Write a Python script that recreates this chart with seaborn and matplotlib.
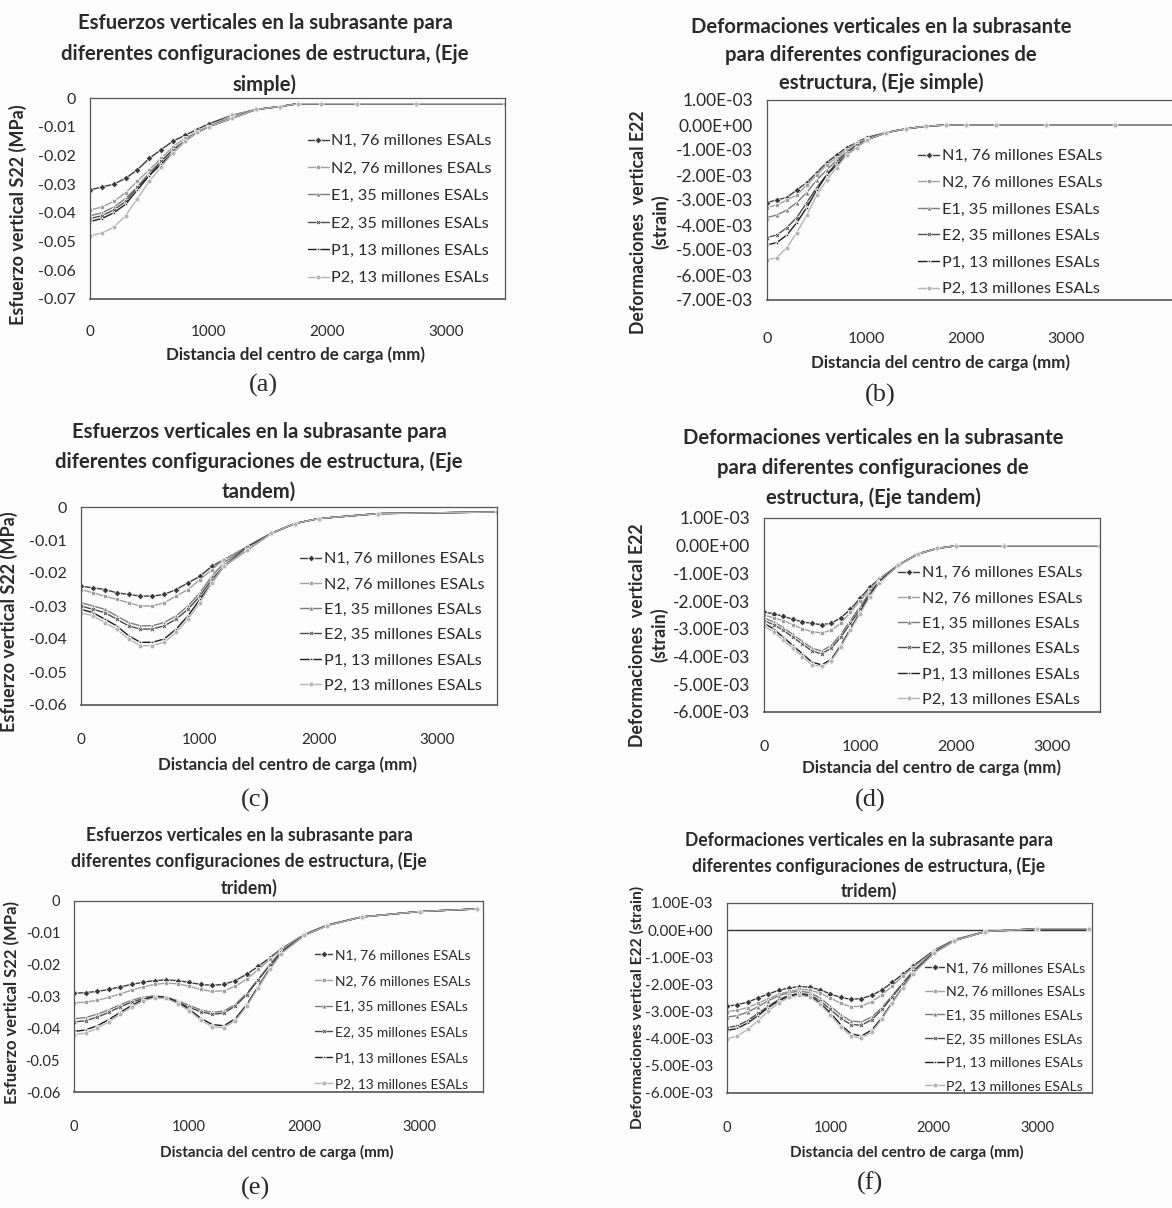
import numpy as np
import pandas as pd
import seaborn as sns
import matplotlib.pyplot as plt
from matplotlib.ticker import FuncFormatter, MultipleLocator, FixedLocator

sns.set_theme(style="white")
plt.rcParams['font.family'] = ['Lato', 'DejaVu Sans']

# --- data ---
series = ["N1", "N2", "E1", "E2", "P1", "P2"]
labels_std = ["N1, 76 millones ESALs", "N2, 76 millones ESALs", "E1, 35 millones ESALs",
              "E2, 35 millones ESALs", "P1, 13 millones ESALs", "P2, 13 millones ESALs"]
labels_f = ["N1, 76 millones ESALs", "N2, 76 millones ESALs", "E1, 35 millones ESALs",
            "E2, 35 millones ESLAs", "P1, 13 millones ESALs", "P2, 13 millones ESALs"]

# (a) stress, single axle
x_a = [0, 100, 200, 300, 400, 500, 600, 700, 800, 900, 1000, 1200, 1400, 1600, 1750, 1950, 2250, 2750, 3500]
a_N1 = [-0.032, -0.031, -0.030, -0.028, -0.025, -0.021, -0.018, -0.015, -0.013, -0.011, -0.009, -0.006, -0.004, -0.003, -0.002, -0.002, -0.002, -0.002, -0.002]
a_N2 = [-0.039, -0.038, -0.036, -0.033, -0.029, -0.025, -0.021, -0.017, -0.014, -0.012, -0.010, -0.006, -0.004, -0.003, -0.002, -0.002, -0.002, -0.002, -0.002]
a_E1 = [-0.041, -0.040, -0.038, -0.035, -0.031, -0.026, -0.022, -0.018, -0.015, -0.012, -0.010, -0.007, -0.004, -0.003, -0.002, -0.002, -0.002, -0.002, -0.002]
a_E2 = [-0.042, -0.041, -0.039, -0.036, -0.031, -0.027, -0.022, -0.018, -0.015, -0.012, -0.010, -0.007, -0.004, -0.003, -0.002, -0.002, -0.002, -0.002, -0.002]
a_P1 = [-0.043, -0.042, -0.040, -0.037, -0.032, -0.027, -0.023, -0.019, -0.015, -0.012, -0.010, -0.007, -0.004, -0.003, -0.002, -0.002, -0.002, -0.002, -0.002]
a_P2 = [-0.048, -0.047, -0.045, -0.041, -0.035, -0.029, -0.024, -0.019, -0.015, -0.012, -0.010, -0.007, -0.004, -0.003, -0.002, -0.002, -0.002, -0.002, -0.002]

# (b) strain, single axle
x_b = [0, 100, 200, 300, 400, 500, 600, 700, 800, 900, 1000, 1200, 1400, 1600, 1800, 2000, 2300, 2800, 3500, 4200]
b_N1 = [-3.1e-3, -3.0e-3, -2.9e-3, -2.6e-3, -2.3e-3, -1.9e-3, -1.5e-3, -1.2e-3, -0.9e-3, -0.7e-3, -0.5e-3, -0.3e-3, -0.15e-3, -0.05e-3, 0.0, 0.0, 0.0, 0.0, 0.0, 0.0]
b_N2 = [-3.3e-3, -3.2e-3, -3.0e-3, -2.8e-3, -2.4e-3, -2.0e-3, -1.6e-3, -1.3e-3, -1.0e-3, -0.7e-3, -0.55e-3, -0.3e-3, -0.15e-3, -0.05e-3, 0.0, 0.0, 0.0, 0.0, 0.0, 0.0]
b_E1 = [-3.7e-3, -3.6e-3, -3.4e-3, -3.1e-3, -2.7e-3, -2.2e-3, -1.8e-3, -1.4e-3, -1.1e-3, -0.8e-3, -0.6e-3, -0.3e-3, -0.15e-3, -0.05e-3, 0.0, 0.0, 0.0, 0.0, 0.0, 0.0]
b_E2 = [-4.5e-3, -4.4e-3, -4.1e-3, -3.7e-3, -3.1e-3, -2.5e-3, -2.0e-3, -1.5e-3, -1.1e-3, -0.8e-3, -0.6e-3, -0.3e-3, -0.15e-3, -0.05e-3, 0.0, 0.0, 0.0, 0.0, 0.0, 0.0]
b_P1 = [-4.8e-3, -4.7e-3, -4.4e-3, -3.9e-3, -3.3e-3, -2.6e-3, -2.0e-3, -1.6e-3, -1.2e-3, -0.9e-3, -0.6e-3, -0.3e-3, -0.15e-3, -0.05e-3, 0.0, 0.0, 0.0, 0.0, 0.0, 0.0]
b_P2 = [-5.4e-3, -5.3e-3, -4.9e-3, -4.3e-3, -3.6e-3, -2.8e-3, -2.2e-3, -1.7e-3, -1.2e-3, -0.9e-3, -0.6e-3, -0.3e-3, -0.15e-3, -0.05e-3, 0.0, 0.0, 0.0, 0.0, 0.0, 0.0]

# (c) stress, tandem axle
x_c = [0, 100, 200, 300, 400, 500, 600, 700, 800, 900, 1000, 1100, 1200, 1400, 1600, 1800, 2000, 2500, 3500]
c_N1 = [-0.024, -0.0245, -0.025, -0.026, -0.0265, -0.027, -0.027, -0.0265, -0.025, -0.023, -0.021, -0.018, -0.016, -0.012, -0.008, -0.005, -0.0035, -0.002, -0.0015]
c_N2 = [-0.025, -0.026, -0.027, -0.028, -0.029, -0.030, -0.030, -0.029, -0.027, -0.025, -0.022, -0.019, -0.016, -0.012, -0.008, -0.005, -0.0035, -0.002, -0.0015]
c_E1 = [-0.029, -0.030, -0.031, -0.033, -0.035, -0.036, -0.036, -0.035, -0.033, -0.030, -0.026, -0.021, -0.017, -0.012, -0.008, -0.005, -0.0035, -0.002, -0.0015]
c_E2 = [-0.030, -0.031, -0.032, -0.034, -0.036, -0.037, -0.037, -0.036, -0.034, -0.031, -0.027, -0.022, -0.018, -0.012, -0.008, -0.005, -0.0035, -0.002, -0.0015]
c_P1 = [-0.031, -0.032, -0.034, -0.036, -0.039, -0.041, -0.041, -0.040, -0.037, -0.033, -0.028, -0.023, -0.018, -0.013, -0.008, -0.005, -0.0035, -0.002, -0.0015]
c_P2 = [-0.032, -0.033, -0.035, -0.037, -0.040, -0.042, -0.042, -0.041, -0.038, -0.034, -0.029, -0.023, -0.018, -0.013, -0.008, -0.005, -0.0035, -0.002, -0.0015]

# (d) strain, tandem axle
x_d = [0, 100, 200, 300, 400, 500, 600, 700, 800, 900, 1000, 1100, 1200, 1400, 1600, 1800, 2000, 2500, 3500]
d_N1 = [-2.4e-3, -2.45e-3, -2.55e-3, -2.65e-3, -2.75e-3, -2.8e-3, -2.85e-3, -2.8e-3, -2.6e-3, -2.3e-3, -1.9e-3, -1.5e-3, -1.2e-3, -0.7e-3, -0.3e-3, -0.1e-3, 0.0, 0.0, 0.0]
d_N2 = [-2.5e-3, -2.6e-3, -2.7e-3, -2.85e-3, -3.0e-3, -3.1e-3, -3.15e-3, -3.05e-3, -2.8e-3, -2.4e-3, -2.0e-3, -1.6e-3, -1.2e-3, -0.7e-3, -0.3e-3, -0.1e-3, 0.0, 0.0, 0.0]
d_E1 = [-2.6e-3, -2.75e-3, -2.95e-3, -3.2e-3, -3.45e-3, -3.7e-3, -3.8e-3, -3.6e-3, -3.2e-3, -2.7e-3, -2.2e-3, -1.7e-3, -1.3e-3, -0.7e-3, -0.3e-3, -0.1e-3, 0.0, 0.0, 0.0]
d_E2 = [-2.7e-3, -2.85e-3, -3.05e-3, -3.3e-3, -3.55e-3, -3.8e-3, -3.9e-3, -3.7e-3, -3.3e-3, -2.8e-3, -2.3e-3, -1.75e-3, -1.3e-3, -0.7e-3, -0.3e-3, -0.1e-3, 0.0, 0.0, 0.0]
d_P1 = [-2.8e-3, -3.0e-3, -3.3e-3, -3.6e-3, -3.9e-3, -4.2e-3, -4.3e-3, -4.1e-3, -3.6e-3, -3.0e-3, -2.4e-3, -1.8e-3, -1.3e-3, -0.7e-3, -0.3e-3, -0.1e-3, 0.0, 0.0, 0.0]
d_P2 = [-2.9e-3, -3.1e-3, -3.4e-3, -3.7e-3, -4.0e-3, -4.3e-3, -4.35e-3, -4.15e-3, -3.65e-3, -3.05e-3, -2.45e-3, -1.85e-3, -1.35e-3, -0.7e-3, -0.3e-3, -0.1e-3, 0.0, 0.0, 0.0]

# (e) stress, tridem axle
x_e = [0, 100, 200, 300, 400, 500, 600, 700, 800, 900, 1000, 1100, 1200, 1300, 1400, 1500, 1600, 1700, 1800, 2000, 2200, 2500, 3000, 3500]
e_N1 = [-0.029, -0.0288, -0.0284, -0.0278, -0.0270, -0.0262, -0.0255, -0.0250, -0.0248, -0.0250, -0.0256, -0.0262, -0.0265, -0.0262, -0.0250, -0.0230, -0.0205, -0.0178, -0.0150, -0.0105, -0.0075, -0.0050, -0.0033, -0.0025]
e_N2 = [-0.032, -0.0318, -0.0312, -0.0303, -0.0292, -0.0280, -0.0270, -0.0262, -0.0258, -0.0260, -0.0268, -0.0278, -0.0284, -0.0282, -0.0268, -0.0245, -0.0215, -0.0183, -0.0152, -0.0105, -0.0075, -0.0050, -0.0033, -0.0025]
e_E1 = [-0.037, -0.0366, -0.0356, -0.0342, -0.0326, -0.0312, -0.0302, -0.0298, -0.0302, -0.0313, -0.0328, -0.0342, -0.0350, -0.0346, -0.0325, -0.0290, -0.0245, -0.0200, -0.0158, -0.0107, -0.0076, -0.0050, -0.0033, -0.0025]
e_E2 = [-0.038, -0.0376, -0.0365, -0.0350, -0.0333, -0.0318, -0.0307, -0.0302, -0.0306, -0.0318, -0.0334, -0.0348, -0.0356, -0.0352, -0.0330, -0.0294, -0.0248, -0.0202, -0.0159, -0.0107, -0.0076, -0.0050, -0.0033, -0.0025]
e_P1 = [-0.041, -0.0405, -0.0392, -0.0373, -0.0350, -0.0328, -0.0310, -0.0300, -0.0302, -0.0318, -0.0340, -0.0368, -0.0388, -0.0392, -0.0370, -0.0325, -0.0268, -0.0212, -0.0163, -0.0108, -0.0077, -0.0050, -0.0033, -0.0025]
e_P2 = [-0.042, -0.0415, -0.0400, -0.0380, -0.0356, -0.0333, -0.0314, -0.0304, -0.0306, -0.0322, -0.0345, -0.0374, -0.0395, -0.0398, -0.0376, -0.0330, -0.0272, -0.0215, -0.0165, -0.0108, -0.0077, -0.0050, -0.0033, -0.0025]

# (f) strain, tridem axle
x_f = [0, 100, 200, 300, 400, 500, 600, 700, 800, 900, 1000, 1100, 1200, 1300, 1400, 1500, 1600, 1700, 1800, 2000, 2200, 2500, 3000, 3500]
f_N1 = [-2.8e-3, -2.75e-3, -2.65e-3, -2.5e-3, -2.35e-3, -2.22e-3, -2.13e-3, -2.08e-3, -2.1e-3, -2.2e-3, -2.35e-3, -2.48e-3, -2.55e-3, -2.52e-3, -2.4e-3, -2.2e-3, -1.92e-3, -1.62e-3, -1.32e-3, -0.75e-3, -0.35e-3, -0.05e-3, 0.05e-3, 0.05e-3]
f_N2 = [-3.0e-3, -2.95e-3, -2.85e-3, -2.7e-3, -2.52e-3, -2.36e-3, -2.25e-3, -2.18e-3, -2.2e-3, -2.32e-3, -2.5e-3, -2.7e-3, -2.82e-3, -2.8e-3, -2.63e-3, -2.38e-3, -2.05e-3, -1.7e-3, -1.38e-3, -0.78e-3, -0.36e-3, -0.05e-3, 0.05e-3, 0.05e-3]
f_E1 = [-3.2e-3, -3.15e-3, -3.02e-3, -2.82e-3, -2.6e-3, -2.42e-3, -2.3e-3, -2.25e-3, -2.3e-3, -2.5e-3, -2.8e-3, -3.12e-3, -3.35e-3, -3.38e-3, -3.2e-3, -2.85e-3, -2.4e-3, -1.95e-3, -1.5e-3, -0.82e-3, -0.38e-3, -0.05e-3, 0.05e-3, 0.05e-3]
f_E2 = [-3.6e-3, -3.52e-3, -3.33e-3, -3.07e-3, -2.8e-3, -2.56e-3, -2.4e-3, -2.33e-3, -2.38e-3, -2.6e-3, -2.92e-3, -3.25e-3, -3.48e-3, -3.5e-3, -3.3e-3, -2.92e-3, -2.45e-3, -1.98e-3, -1.52e-3, -0.83e-3, -0.38e-3, -0.05e-3, 0.05e-3, 0.05e-3]
f_P1 = [-3.7e-3, -3.62e-3, -3.42e-3, -3.15e-3, -2.85e-3, -2.6e-3, -2.43e-3, -2.36e-3, -2.42e-3, -2.68e-3, -3.05e-3, -3.48e-3, -3.82e-3, -3.9e-3, -3.68e-3, -3.22e-3, -2.65e-3, -2.1e-3, -1.58e-3, -0.85e-3, -0.39e-3, -0.05e-3, 0.05e-3, 0.05e-3]
f_P2 = [-4.0e-3, -3.9e-3, -3.66e-3, -3.33e-3, -2.98e-3, -2.68e-3, -2.48e-3, -2.4e-3, -2.46e-3, -2.73e-3, -3.12e-3, -3.56e-3, -3.9e-3, -3.98e-3, -3.75e-3, -3.27e-3, -2.68e-3, -2.12e-3, -1.6e-3, -0.86e-3, -0.39e-3, -0.05e-3, 0.05e-3, 0.05e-3]

x_ticks = [0, 1000, 2000, 3000]

titles = [
    "Esfuerzos verticales en la subrasante para\ndiferentes configuraciones de estructura, (Eje\nsimple)",
    "Deformaciones verticales en la subrasante\npara diferentes configuraciones de\nestructura, (Eje simple)",
    "Esfuerzos verticales en la subrasante para\ndiferentes configuraciones de estructura, (Eje\ntandem)",
    "Deformaciones verticales en la subrasante\npara diferentes configuraciones de\nestructura, (Eje tandem)",
    "Esfuerzos verticales en la subrasante para\ndiferentes configuraciones de estructura, (Eje\ntridem)",
    "Deformaciones verticales en la subrasante para\ndiferentes configuraciones de estructura, (Eje\ntridem)",
]
xlabel = "Distancia del centro de carga (mm)"
ylabel_s = "Esfuerzo vertical S22 (MPa)"

palette = {"N1": "#3a3a3a", "N2": "#a0a0a0", "E1": "#7c7c7c", "E2": "#4c4c4c", "P1": "#1e1e1e", "P2": "#b4b4b4"}
markers = {"N1": "D", "N2": "s", "E1": "^", "E2": "X", "P1": "*", "P2": "o"}

W, H = 1172, 1208
fig = plt.figure(figsize=(W / 100, H / 100), dpi=100)
fig.patch.set_facecolor("#fcfcfc")


def fx(px):
    return px / W


def fy(py):
    return 1 - py / H


def stress_fmt(v, pos):
    if abs(v) < 1e-9:
        return "0"
    return f"{v:.2f}"


def strain_fmt(v, pos):
    if abs(v) < 1e-12:
        v = 0.0
    return f"{v:.2E}"


# pixel layout of each panel (positions measured on the reference)
panels = [
    dict(box=(90, 98, 505, 299), xlim=(0, 3500), ylim=(-0.07, 0), step=0.01, kind="s",
         x=x_a, ys=[a_N1, a_N2, a_E1, a_E2, a_P1, a_P2], labels=labels_std,
         title_xy=(265, 25), title_fs=14.6, title_ls=1.62,
         ylab=(18, 215, 13), xlab=(296, 355, 12.2), cap=("(a)", 263, 385),
         leg=(492, 134, 11.7, 0.8), tick_fs=(11, 11.5), pads=(19, 10)),
    dict(box=(767, 100, 1185, 300), xlim=(0, 4200), ylim=(-7e-3, 1e-3), step=1e-3, kind="e",
         x=x_b, ys=[b_N1, b_N2, b_E1, b_E2, b_P1, b_P2], labels=labels_std,
         title_xy=(881, 29), title_fs=14.6, title_ls=1.48,
         ylab=(650, 222, 12.8), xlab=(940, 363, 12.2), cap=("(b)", 880, 395),
         leg=(1102, 149, 11.7, 0.75), tick_fs=(11.5, 12.5), pads=(23, 10)),
    dict(box=(81, 507, 497, 705), xlim=(0, 3500), ylim=(-0.06, 0), step=0.01, kind="s",
         x=x_c, ys=[c_N1, c_N2, c_E1, c_E2, c_P1, c_P2], labels=labels_std,
         title_xy=(259, 434), title_fs=14.6, title_ls=1.58,
         ylab=(9, 622, 13), xlab=(288, 765, 12.2), cap=("(c)", 255, 800),
         leg=(484, 552, 11.7, 0.67), tick_fs=(11, 11.5), pads=(20, 10)),
    dict(box=(764, 518, 1100, 712), xlim=(0, 3500), ylim=(-6e-3, 1e-3), step=1e-3, kind="e",
         x=x_d, ys=[d_N1, d_N2, d_E1, d_E2, d_P1, d_P2], labels=labels_std,
         title_xy=(873, 440), title_fs=14.6, title_ls=1.6,
         ylab=(649, 635, 12.8), xlab=(931, 768, 12.2), cap=("(d)", 870, 800),
         leg=(1082, 566, 11.7, 0.67), tick_fs=(11.5, 12.5), pads=(20, 10)),
    dict(box=(74, 901, 483, 1092), xlim=(0, 3550), ylim=(-0.06, 0), step=0.01, kind="s",
         x=x_e, ys=[e_N1, e_N2, e_E1, e_E2, e_P1, e_P2], labels=labels_std,
         title_xy=(249, 839), title_fs=12.7, title_ls=1.55,
         ylab=(12, 1003, 12), xlab=(277, 1152, 11), cap=("(e)", 255, 1188),
         leg=(470, 949, 9.9, 1.0), tick_fs=(10.5, 10.5), pads=(20, 10)),
    dict(box=(727, 903, 1092, 1093), xlim=(0, 3530), ylim=(-6e-3, 1e-3), step=1e-3, kind="e",
         x=x_f, ys=[f_N1, f_N2, f_E1, f_E2, f_P1, f_P2], labels=labels_f,
         title_xy=(869, 844), title_fs=12.65, title_ls=1.5,
         ylab=(637, 1007, 11.2), xlab=(907, 1152, 11), cap=("(f)", 870, 1183),
         leg=(1085, 962, 10.2, 0.82), tick_fs=(10.5, 11), pads=(20, 10)),
]

ink = "#2a2a2a"

for i, p in enumerate(panels):
    L, T, R, B = p["box"]
    ax = fig.add_axes([fx(L), fy(B), fx(R) - fx(L), fy(T) - fy(B)])
    ax.set_facecolor("none")

    rows = []
    for code, lab, yv in zip(series, p["labels"], p["ys"]):
        for xv, v in zip(p["x"], yv):
            rows.append({"x": xv, "y": v, "serie": lab})
    df = pd.DataFrame(rows)
    pal = {lab: palette[c] for c, lab in zip(series, p["labels"])}
    mk = {lab: markers[c] for c, lab in zip(series, p["labels"])}

    sns.lineplot(data=df, x="x", y="y", hue="serie", style="serie", hue_order=p["labels"],
                 style_order=p["labels"], palette=pal, markers=mk, dashes=False,
                 estimator=None, sort=False, ax=ax, linewidth=1.0, markersize=3.5,
                 markeredgewidth=0.5)

    if i == 5:
        ax.axhline(0, color="#333333", lw=1.0, zorder=0)

    ax.set_xlim(*p["xlim"])
    ax.set_ylim(*p["ylim"])
    ax.xaxis.set_major_locator(FixedLocator(x_ticks))
    ax.yaxis.set_major_locator(MultipleLocator(p["step"]))
    ax.yaxis.set_major_formatter(FuncFormatter(stress_fmt if p["kind"] == "s" else strain_fmt))
    ax.set_xlabel("")
    ax.set_ylabel("")
    ax.tick_params(axis="both", length=0, colors=ink)
    ax.tick_params(axis="x", labelsize=p["tick_fs"][0], pad=p["pads"][0])
    ax.tick_params(axis="y", labelsize=p["tick_fs"][1], pad=p["pads"][1])
    for s in ax.spines.values():
        s.set_color("#555555")
        s.set_linewidth(0.9)
    ax.spines["bottom"].set_linewidth(1.2)

    handles, labs = ax.get_legend_handles_labels()
    lx, ly, lfs, lsp = p["leg"]
    ax.legend(handles, labs, loc="upper right", bbox_to_anchor=(fx(lx), fy(ly)),
              bbox_transform=fig.transFigure, frameon=False, fontsize=lfs,
              handlelength=1.3, handletextpad=0.15, labelspacing=lsp, borderpad=0,
              borderaxespad=0, labelcolor=ink)

    tx, ty = p["title_xy"]
    fig.text(fx(tx), fy(ty - 12), titles[i], ha="center", va="top", fontsize=p["title_fs"],
             fontweight="bold", color=ink, linespacing=p["title_ls"])

    if p["kind"] == "s":
        ylab_txt = ylabel_s
    elif i == 5:
        ylab_txt = "Deformaciones vertical E22 (strain)"
    else:
        ylab_txt = "Deformaciones  vertical E22\n(strain)"
    yx, yy, yfs = p["ylab"]
    fig.text(fx(yx), fy(yy), ylab_txt, rotation=90, ha="center", va="center",
             fontsize=yfs, fontweight="bold", color=ink, linespacing=1.3)

    xx, xy, xfs = p["xlab"]
    fig.text(fx(xx), fy(xy), xlabel, ha="center", va="center", fontsize=xfs,
             fontweight="bold", color=ink)

    cap, cx, cy = p["cap"]
    fig.text(fx(cx), fy(cy), cap, ha="center", va="center", fontsize=19,
             family=["Liberation Serif", "DejaVu Serif"], color=ink)

fig.savefig("out.png", dpi=100, facecolor=fig.get_facecolor())
